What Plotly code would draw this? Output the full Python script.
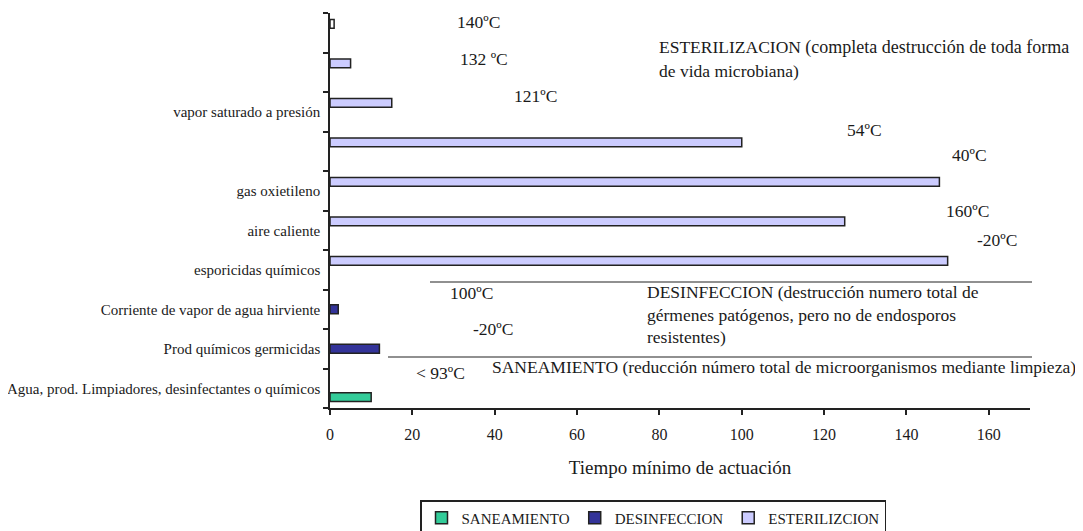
import plotly.graph_objects as go

# Categories, top to bottom as in the reference
categories = [
    " ",
    "  ",
    "vapor saturado a presión",
    "   ",
    "gas oxietileno",
    "aire caliente",
    "esporicidas químicos",
    "Corriente de vapor de agua hirviente",
    "Prod químicos germicidas",
    "Agua, prod. Limpiadores, desinfectantes o químicos",
]
saneamiento = [None, None, None, None, None, None, None, None, None, 10]
desinfeccion = [None, None, None, None, None, None, None, 2, 12, None]
esterilizacion = [1, 5, 15, 100, 148, 125, 150, None, None, None]
x_ticks = [0, 20, 40, 60, 80, 100, 120, 140, 160]

FONT = "Liberation Serif"
# plot-area edges in page pixels (the page body has an 8px margin)
OFF = 8
L, R, T, B = 330, 1030, 13, 408
W, H = 1083 - OFF, 531 - OFF


def px(x):
    return (x - L) / (R - L)


def py(y):
    return (B - y) / (B - T)


# data given bottom-to-top so legend swatch takes the series colour
cats_bt = list(reversed(categories))

fig = go.Figure()
fig.add_trace(go.Bar(
    y=cats_bt, x=list(reversed(saneamiento)), orientation="h", name="SANEAMIENTO",
    marker=dict(color="#33CC99", line=dict(color="#222222", width=1.5)),
))
fig.add_trace(go.Bar(
    y=cats_bt, x=list(reversed(desinfeccion)), orientation="h", name="DESINFECCION",
    marker=dict(color="#333399", line=dict(color="#222222", width=1.5)),
))
est_colors = ["#CCCCFF"] * len(categories)
est_colors[categories.index(" ")] = "#FFFFFF"
fig.add_trace(go.Bar(
    y=cats_bt, x=list(reversed(esterilizacion)), orientation="h", name="ESTERILIZCION",
    marker=dict(color=list(reversed(est_colors)), line=dict(color="#222222", width=1.5)),
))

notes = [
    ("140ºC", 455, 22),
    ("132 ºC", 458, 59),
    ("121ºC", 512, 96),
    ("54ºC", 845, 130),
    ("40ºC", 950, 155),
    ("160ºC", 944, 211),
    ("-20ºC", 975, 240),
    ("ESTERILIZACION <span style='font-size:18px'>(completa destrucción de toda forma</span>", 657, 47),
    ("de vida microbiana)", 657, 71),
    ("100ºC", 448, 293),
    ("DESINFECCION (destrucción numero total de", 645, 292),
    ("gérmenes patógenos, pero no de endosporos", 645, 315),
    ("resistentes)", 645, 337),
    ("-20ºC", 471, 329),
    ("< 93ºC", 414, 373),
    ("SANEAMIENTO (reducción número total de microorganismos mediante limpieza)", 490, 367),
]
annotations = [
    dict(text=t, x=px(x), y=py(y), xref="paper", yref="paper", xanchor="left",
         yanchor="middle", showarrow=False, font=dict(family=FONT, size=17.5, color="#1a1a1a"))
    for t, x, y in notes
]

shapes = [
    dict(type="line", xref="paper", yref="paper", x0=px(430), x1=px(1032), y0=py(282), y1=py(282),
         line=dict(color="#222222", width=1.2)),
    dict(type="line", xref="paper", yref="paper", x0=px(388), x1=px(1032), y0=py(357), y1=py(357),
         line=dict(color="#222222", width=1.2)),
]

fig.update_layout(
    width=W, height=H,
    margin=dict(l=L - OFF, r=W - (R - OFF), t=T - OFF, b=H - (B - OFF), pad=0, autoexpand=False),
    paper_bgcolor="white", plot_bgcolor="white",
    barmode="group", bargap=1.5 / 4.5, bargroupgap=0,
    font=dict(family=FONT, color="#1a1a1a"),
    xaxis=dict(
        range=[0, 170], tickvals=x_ticks, showgrid=False, zeroline=False,
        showline=True, linecolor="#222222", linewidth=1.5,
        ticks="outside", ticklen=5, tickcolor="#222222", tickwidth=1.5,
        tickfont=dict(family=FONT, size=16), ticklabelstandoff=6,
        title=dict(text="Tiempo mínimo de actuación", font=dict(family=FONT, size=19), standoff=19),
    ),
    yaxis=dict(
        type="category", categoryorder="array", categoryarray=cats_bt,
        showgrid=False, zeroline=False, showline=True, linecolor="#222222", linewidth=1.5,
        ticks="outside", ticklen=5, tickcolor="#222222", tickwidth=1.5, tickson="boundaries",
        tickfont=dict(family=FONT, size=15), ticklabelstandoff=5,
    ),
    legend=dict(
        orientation="h", x=px(653), xanchor="center", y=py(500), yanchor="top",
        bordercolor="#222222", borderwidth=1.5, font=dict(family=FONT, size=15),
        traceorder="normal", itemwidth=30, tracegroupgap=0,
    ),
    annotations=annotations,
    shapes=shapes,
    showlegend=True,
)

fig.write_html("out.html")
